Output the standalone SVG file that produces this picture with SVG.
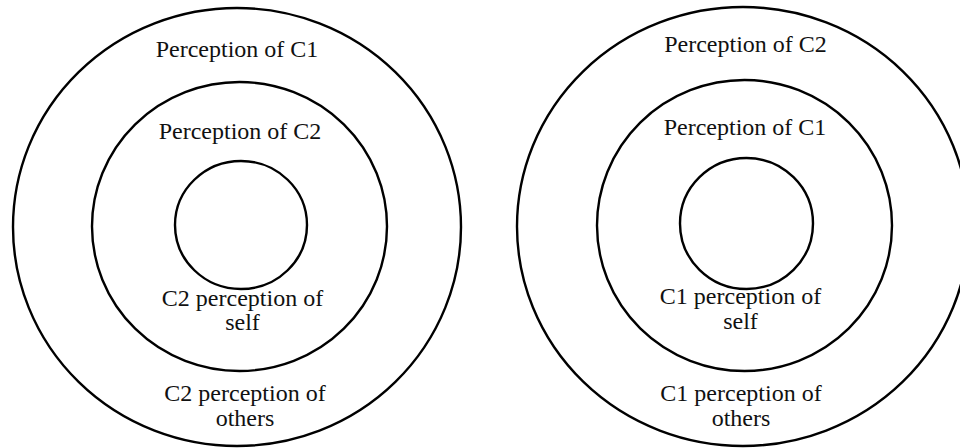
<svg xmlns="http://www.w3.org/2000/svg" width="960" height="448" viewBox="0 0 960 448">
<style>
.ring{fill:none;stroke:#000;stroke-width:2.4}
.t{font-family:"Liberation Serif","Times New Roman",serif;font-size:24px;fill:#111;text-anchor:middle}
</style>
<rect width="960" height="448" fill="#fff"/>
<g id="left">
<g id="left-outer"><ellipse class="ring" cx="237" cy="227" rx="224" ry="219"/><text class="t" x="237" y="57">Perception of C1</text><text class="t" x="245" y="401">C2 perception of</text><text class="t" x="245" y="426">others</text></g>
<g id="left-middle"><ellipse class="ring" cx="239.5" cy="226.5" rx="147.5" ry="144.5"/><text class="t" x="240" y="139">Perception of C2</text><text class="t" x="242.5" y="306">C2 perception of</text><text class="t" x="242.5" y="330">self</text></g>
<g id="left-inner"><ellipse class="ring" cx="241" cy="225" rx="66" ry="64"/></g>
</g>
<g id="right">
<g id="right-outer"><ellipse class="ring" cx="743" cy="226.5" rx="226" ry="219.5"/><text class="t" x="745.5" y="52">Perception of C2</text><text class="t" x="741" y="401">C1 perception of</text><text class="t" x="741" y="426">others</text></g>
<g id="right-middle"><ellipse class="ring" cx="744.5" cy="225.5" rx="147.5" ry="145.5"/><text class="t" x="745" y="135">Perception of C1</text><text class="t" x="740.5" y="304">C1 perception of</text><text class="t" x="740.5" y="329">self</text></g>
<g id="right-inner"><ellipse class="ring" cx="746.5" cy="223.5" rx="66.5" ry="65.5"/></g>
</g>
<g id="connectors"/>
</svg>
